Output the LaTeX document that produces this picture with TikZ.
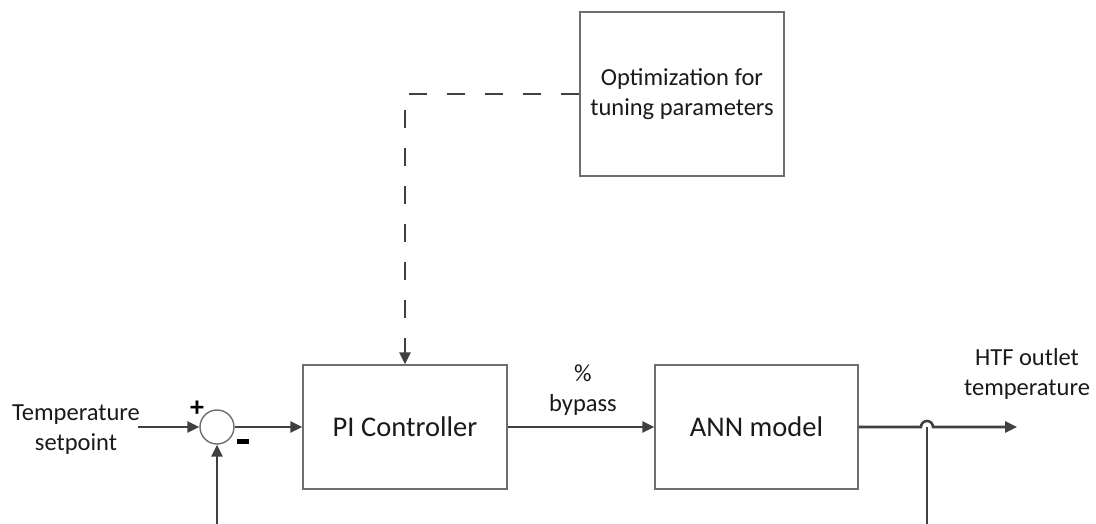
\documentclass[tikz,border=0pt]{standalone}
\usepackage{fontspec}
\setmainfont{Carlito}
\usetikzlibrary{arrows.meta}
\definecolor{linec}{HTML}{404040}
\definecolor{boxc}{HTML}{6E6E6E}
\definecolor{txt}{HTML}{1A1A1A}
\begin{document}
\begin{tikzpicture}[x=1pt,y=-1pt,
  blk/.style={draw=boxc,line width=1.4pt,fill=white,inner sep=0pt,text=txt},
  lbl/.style={text=txt,font=\fontsize{24.5}{30}\selectfont,align=center,inner sep=0pt},
  arr/.style={draw=linec,line width=2.6pt,-{Triangle[length=12pt,width=11pt]}},
  dasharr/.style={arr,dash pattern=on 18pt off 20pt}]
\useasboundingbox (0,0) rectangle (1096,524);
% blocks
\node[blk,minimum width=204pt,minimum height=164pt,font=\fontsize{24.5}{30}\selectfont,align=center] (opt) at (682,94) {Optimization for\\tuning parameters};
\node[blk,minimum width=204pt,minimum height=124pt,font=\fontsize{28.5}{34}\selectfont] (pi) at (405,427) {PI Controller};
\node[blk,minimum width=203pt,minimum height=124pt,font=\fontsize{28.5}{34}\selectfont] (ann) at (756.5,427) {ANN model};
\node[draw=boxc,line width=1.4pt,circle,minimum size=34pt,inner sep=0pt] (sum) at (217,427) {};
% free ends
\coordinate (in) at (138,427);
\coordinate (fb) at (217,524);
\coordinate (out) at (1017,427);
\coordinate (fb2) at (927,524);
\coordinate (jmp) at (921,427);
% connectors
\draw[arr] (in) -- (sum.west);
\draw[arr] (fb) -- (sum.south);
\draw[arr] (sum.east) -- (pi.west);
\draw[arr] (pi.east) -- (ann.west);
\draw[arr] (ann.east) -- (jmp) arc (180:360:6) -- (out);
\draw[draw=linec,line width=2.6pt] (fb2) -- (927,427);
\draw[dasharr] (opt.west) -| (pi.north);
% labels
\node[lbl] (tsp) at (76,430) {Temperature\\setpoint};
\node[lbl] (byp) at (583,390) {\%\\bypass};
\node[lbl] (htf) at (1027,374) {HTF outlet\\temperature};
\node[text=black,font=\fontsize{28}{28}\selectfont\bfseries,inner sep=0pt] (plus) at (197,409) {+};
\fill[black] (236.5,439) rectangle (248.5,443.5);
\end{tikzpicture}
\end{document}
